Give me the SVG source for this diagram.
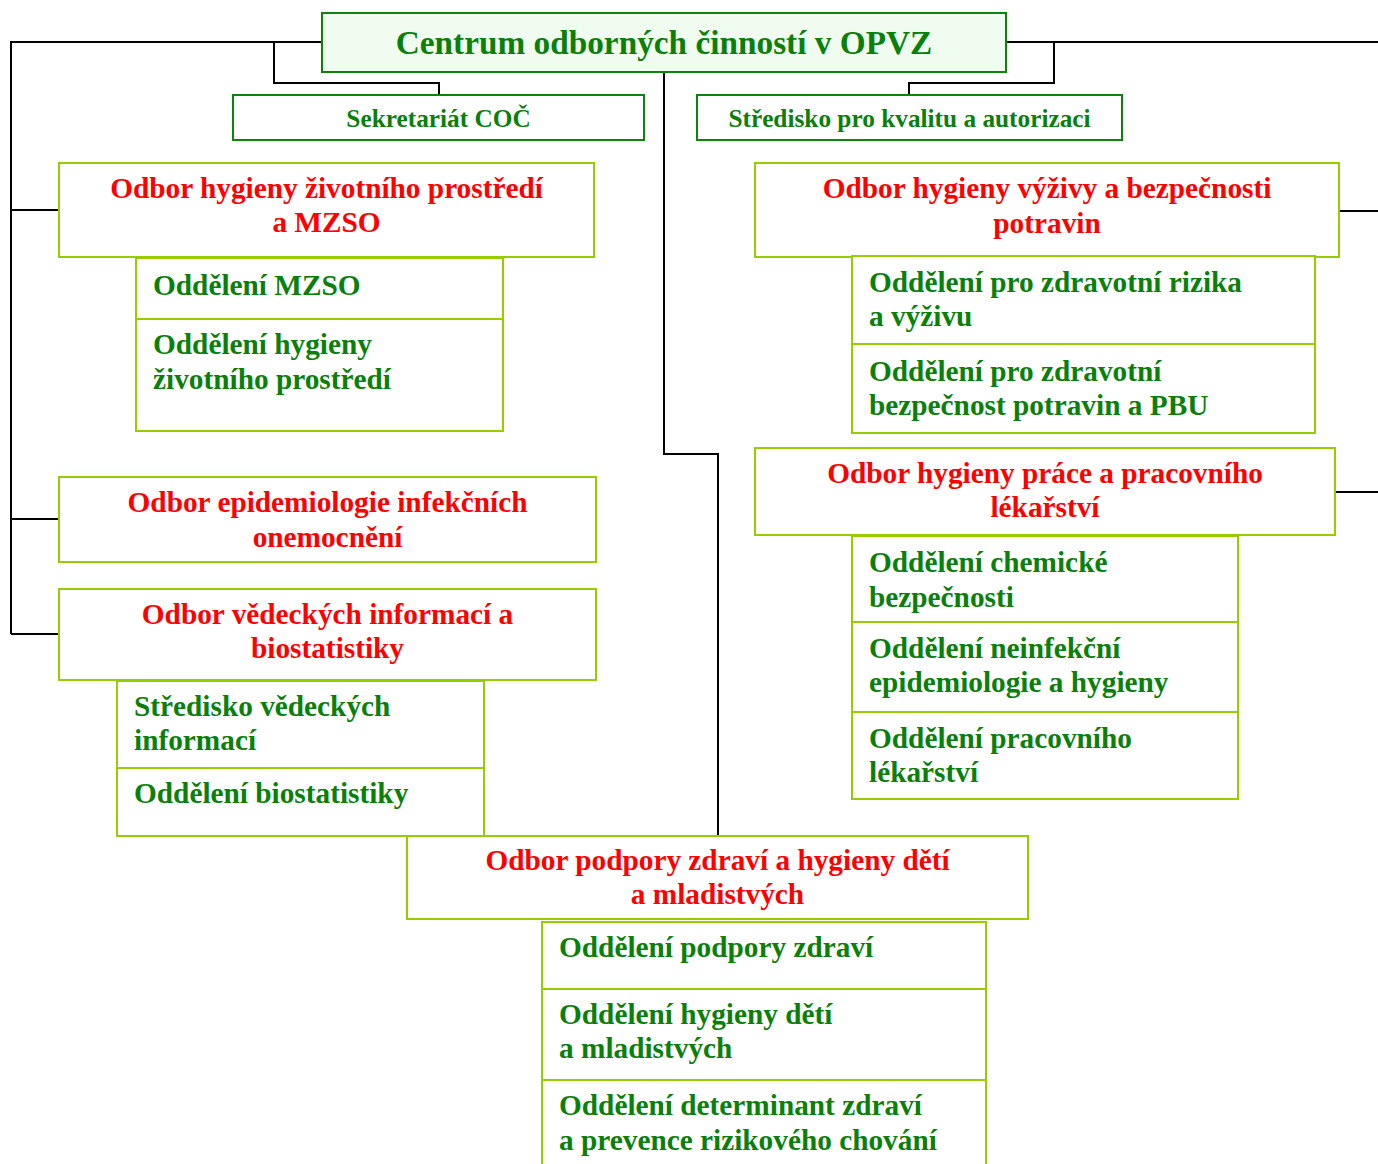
<svg xmlns="http://www.w3.org/2000/svg" width="1378" height="1164" viewBox="0 0 1378 1164">
<style>
  .bg{fill:#ffffff}
  .ln{fill:none;stroke:#000000;stroke-width:2}
  .top{fill:#f0fcf0;stroke:#0a840a;stroke-width:2}
  .st{fill:#ffffff;stroke:#0a840a;stroke-width:2}
  .od{fill:#ffffff;stroke:#99cc00;stroke-width:2}
  text{font-family:"Liberation Serif","Times New Roman",serif;font-weight:bold}
  .t0{font-size:33.3px;fill:#0a800a;text-anchor:middle}
  .t1{font-size:25.3px;fill:#0a800a;text-anchor:middle}
  .r{font-size:29.3px;fill:#ff0000;text-anchor:middle}
  .g{font-size:29.3px;fill:#0a800a}
</style>
<rect class="bg" x="0" y="0" width="1378" height="1164"/>
<g id="connectors">
  <path class="ln" d="M322,42 H11 V634"/>
  <path class="ln" d="M11,210 H59"/>
  <path class="ln" d="M11,519 H59"/>
  <path class="ln" d="M11,634 H59"/>
  <path class="ln" d="M274,42 V83 H439 V95"/>
  <path class="ln" d="M1006,42 H1378"/>
  <path class="ln" d="M1054,42 V83 H909 V95"/>
  <path class="ln" d="M1339,211 H1378"/>
  <path class="ln" d="M1335,492 H1378"/>
  <path class="ln" d="M664,72 V454 H718 V836"/>
  <path class="ln" d="M300,678 V682"/>
</g>
<g id="centrum">
  <rect class="top" x="322" y="13" width="684" height="59"/>
  <text class="t0" x="664" y="54">Centrum odborných činností v OPVZ</text>
</g>
<g id="sekretariat">
  <rect class="st" x="233" y="95" width="411" height="45"/>
  <text class="t1" x="438.5" y="127">Sekretariát COČ</text>
</g>
<g id="stredisko-kvalita">
  <rect class="st" x="697" y="95" width="425" height="45"/>
  <text class="t1" x="909.5" y="127">Středisko pro kvalitu a autorizaci</text>
</g>
<g id="odbor-zp">
  <rect class="od" x="59" y="163" width="535" height="94"/>
  <text class="r" x="326.5" y="198">Odbor hygieny životního prostředí</text>
  <text class="r" x="326.5" y="232">a MZSO</text>
</g>
<g id="odd-mzso">
  <rect class="od" x="136" y="258" width="367" height="61"/>
  <text class="g" x="153" y="295">Oddělení MZSO</text>
</g>
<g id="odd-hzp">
  <rect class="od" x="136" y="319" width="367" height="112"/>
  <text class="g" x="153" y="354">Oddělení hygieny</text>
  <text class="g" x="153" y="389">životního prostředí</text>
</g>
<g id="odbor-epi">
  <rect class="od" x="59" y="477" width="537" height="85"/>
  <text class="r" x="327.5" y="512">Odbor epidemiologie infekčních</text>
  <text class="r" x="327.5" y="547">onemocnění</text>
</g>
<g id="odbor-vib">
  <rect class="od" x="59" y="589" width="537" height="91"/>
  <text class="r" x="327.5" y="624">Odbor vědeckých informací a</text>
  <text class="r" x="327.5" y="658">biostatistiky</text>
</g>
<g id="str-vi">
  <rect class="od" x="117" y="681" width="367" height="87"/>
  <text class="g" x="134" y="716">Středisko vědeckých</text>
  <text class="g" x="134" y="750">informací</text>
</g>
<g id="odd-bio">
  <rect class="od" x="117" y="768" width="367" height="68"/>
  <text class="g" x="134" y="803">Oddělení biostatistiky</text>
</g>
<g id="odbor-vyz">
  <rect class="od" x="755" y="163" width="584" height="94"/>
  <text class="r" x="1047" y="198">Odbor hygieny výživy a bezpečnosti</text>
  <text class="r" x="1047" y="233">potravin</text>
</g>
<g id="odd-rizika">
  <rect class="od" x="852" y="256" width="463" height="88"/>
  <text class="g" x="869" y="292">Oddělení pro zdravotní rizika</text>
  <text class="g" x="869" y="326">a výživu</text>
</g>
<g id="odd-pbu">
  <rect class="od" x="852" y="344" width="463" height="89"/>
  <text class="g" x="869" y="381">Oddělení pro zdravotní</text>
  <text class="g" x="869" y="415">bezpečnost potravin a PBU</text>
</g>
<g id="odbor-prace">
  <rect class="od" x="755" y="448" width="580" height="87"/>
  <text class="r" x="1045" y="483">Odbor hygieny práce a pracovního</text>
  <text class="r" x="1045" y="517">lékařství</text>
</g>
<g id="odd-chem">
  <rect class="od" x="852" y="536" width="386" height="86"/>
  <text class="g" x="869" y="572">Oddělení chemické</text>
  <text class="g" x="869" y="607">bezpečnosti</text>
</g>
<g id="odd-neinf">
  <rect class="od" x="852" y="622" width="386" height="90"/>
  <text class="g" x="869" y="658">Oddělení neinfekční</text>
  <text class="g" x="869" y="692">epidemiologie a hygieny</text>
</g>
<g id="odd-prac">
  <rect class="od" x="852" y="712" width="386" height="87"/>
  <text class="g" x="869" y="748">Oddělení pracovního</text>
  <text class="g" x="869" y="782">lékařství</text>
</g>
<g id="odbor-podpory">
  <rect class="od" x="407" y="836" width="621" height="83"/>
  <text class="r" x="717.5" y="870">Odbor podpory zdraví a hygieny dětí</text>
  <text class="r" x="717.5" y="904">a mladistvých</text>
</g>
<g id="odd-podpory">
  <rect class="od" x="542" y="922" width="444" height="67"/>
  <text class="g" x="559" y="957">Oddělení podpory zdraví</text>
</g>
<g id="odd-hdm">
  <rect class="od" x="542" y="989" width="444" height="91"/>
  <text class="g" x="559" y="1024">Oddělení hygieny dětí</text>
  <text class="g" x="559" y="1058">a mladistvých</text>
</g>
<g id="odd-determinant">
  <rect class="od" x="542" y="1080" width="444" height="100"/>
  <text class="g" x="559" y="1115">Oddělení determinant zdraví</text>
  <text class="g" x="559" y="1150">a prevence rizikového chování</text>
</g>
</svg>
